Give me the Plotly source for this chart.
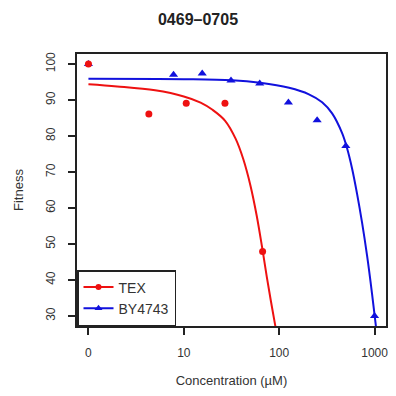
import plotly.graph_objects as go

# Measured points
tex_conc = [0, 4.3, 10.6, 27, 67]
tex_fit = [100, 86.1, 89.1, 89.1, 47.9]
by_conc = [0, 7.8, 15.6, 31.25, 62.5, 125, 250, 500, 1000]
by_fit = [100, 97.0, 97.4, 95.4, 94.6, 89.3, 84.4, 77.2, 30.0]

# Fitted curves
tex_curve_conc = [0, 2, 5, 10, 15, 20, 27, 35, 42, 50, 58, 66, 74, 82, 90, 98]
tex_curve_fit = [94.4, 93.8, 92.7, 91.0, 89.3, 87.3, 84.3, 79.2, 73.6, 66.2, 58.0, 49.3, 41.0, 34.0, 28.0, 22.5]
by_curve_conc = [0, 10, 32, 63, 127, 205, 282, 359, 457, 515, 581, 655, 739, 834, 940, 1019, 1072]
by_curve_fit = [95.9, 95.8, 95.5, 94.8, 93.4, 91.6, 89.4, 86.3, 80.8, 76.6, 71.0, 64.0, 56.0, 46.8, 36.3, 28.5, 23.5]

x_ticks = [0, 10, 100, 1000]
x_labels = ["0", "10", "100", "1000"]
y_ticks = [30, 40, 50, 60, 70, 80, 90, 100]

RED = "#ee1111"
BLUE = "#1111dd"


def pos(c):
    # zero concentration drawn at 1 on the log axis
    return [v if v > 0 else 1 for v in c]


fig = go.Figure()
fig.add_trace(go.Scatter(x=pos(by_curve_conc), y=by_curve_fit, mode="lines",
                         line=dict(color=BLUE, width=2, shape="spline", smoothing=1.0),
                         showlegend=False))
fig.add_trace(go.Scatter(x=pos(tex_curve_conc), y=tex_curve_fit, mode="lines",
                         line=dict(color=RED, width=2, shape="spline", smoothing=1.0),
                         showlegend=False))
fig.add_trace(go.Scatter(x=pos(by_conc), y=by_fit, mode="markers",
                         marker=dict(color=BLUE, symbol="triangle-up", size=8),
                         showlegend=False, cliponaxis=False))
fig.add_trace(go.Scatter(x=pos(tex_conc), y=tex_fit, mode="markers",
                         marker=dict(color=RED, symbol="circle", size=7),
                         showlegend=False, cliponaxis=False))
# legend entries
fig.add_trace(go.Scatter(x=[None], y=[None], mode="lines+markers", name="TEX",
                         line=dict(color=RED, width=2),
                         marker=dict(color=RED, symbol="circle", size=6)))
fig.add_trace(go.Scatter(x=[None], y=[None], mode="lines+markers", name="BY4743",
                         line=dict(color=BLUE, width=2),
                         marker=dict(color=BLUE, symbol="triangle-up", size=7)))

font = dict(family="Liberation Sans, Arial, sans-serif", color="#333333")

fig.update_layout(
    width=396, height=396,
    margin=dict(l=77, r=8, t=54, b=70),
    paper_bgcolor="white", plot_bgcolor="white",
    font=dict(size=12, **font),
    title=dict(text="<b>0469\u20130705</b>", x=0.5, xanchor="center",
               y=1 - 19 / 396, yanchor="middle", yref="container",
               font=dict(size=16, family="Liberation Sans, Arial, sans-serif", color="#222222")),
    legend=dict(x=0, y=0, xanchor="left", yanchor="bottom",
                bordercolor="#222222", borderwidth=1.5, bgcolor="white",
                font=dict(size=14, **font), tracegroupgap=0,
                itemwidth=30),
    xaxis=dict(type="log", range=[-0.12, 3.12], tickvals=pos(x_ticks), ticktext=x_labels,
               showgrid=False, zeroline=False, showline=True, linecolor="#222222", linewidth=1.5,
               mirror=True, ticks="outside", ticklen=7, tickcolor="#222222", tickwidth=1.5,
               ticklabelstandoff=8,
               title=dict(text="Concentration (\u00b5M)", standoff=17, font=dict(size=13, **font))),
    yaxis=dict(range=[27.2, 102.8], tickvals=y_ticks, tickangle=-90,
               showgrid=False, zeroline=False, showline=True, linecolor="#222222", linewidth=1.5,
               mirror=True, ticks="outside", ticklen=7, tickcolor="#222222", tickwidth=1.5,
               ticklabelstandoff=8,
               title=dict(text="Fitness", standoff=18, font=dict(size=13, **font))),
)

fig.write_html("out.html")
